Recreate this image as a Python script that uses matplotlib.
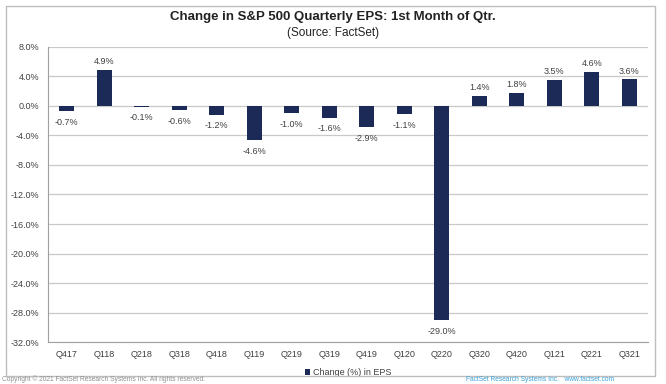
import numpy as np
import matplotlib.pyplot as plt
from matplotlib.patches import Rectangle

# quarters and change in EPS (%) during first month of quarter
quarters = ['Q417', 'Q118', 'Q218', 'Q318', 'Q418', 'Q119', 'Q219', 'Q319',
            'Q419', 'Q120', 'Q220', 'Q320', 'Q420', 'Q121', 'Q221', 'Q321']
changes = [-0.7, 4.9, -0.1, -0.6, -1.2, -4.6, -1.0, -1.6,
           -2.9, -1.1, -29.0, 1.4, 1.8, 3.5, 4.6, 3.6]
yticks = np.arange(-32, 9, 4)

plt.rcParams['font.family'] = ['Liberation Sans', 'DejaVu Sans']
navy = '#1b2a56'

fig = plt.figure(figsize=(6.66, 3.84), dpi=100)
ax = fig.add_axes([0.072, 0.109, 0.901, 0.769])

x = np.arange(len(quarters))
ax.bar(x, changes, width=0.4, color=navy, zorder=3, label='Change (%) in EPS')

for xi, v in zip(x, changes):
    if v >= 0:
        ax.text(xi, v + 0.5, f'{v:.1f}%', ha='center', va='bottom', fontsize=6.5, color='#404040')
    else:
        ax.text(xi, v - 0.9, f'{v:.1f}%', ha='center', va='top', fontsize=6.5, color='#404040')

ax.set_ylim(-32, 8)
ax.set_xlim(-0.5, len(quarters) - 0.5)
ax.set_yticks(yticks)
ax.set_yticklabels([f'{t:.1f}%' for t in yticks], fontsize=6.5, color='#404040')
ax.set_xticks(x)
ax.set_xticklabels(quarters, fontsize=6.5, color='#404040')
ax.tick_params(length=0, pad=6)
ax.grid(axis='y', color='#c8c8c8', linewidth=0.9, zorder=0)
for side in ['top', 'right']:
    ax.spines[side].set_visible(False)
ax.spines['left'].set_color('#a0a0a0')
ax.spines['bottom'].set_color('#a0a0a0')

fig.text(0.5, 0.955, 'Change in S&P 500 Quarterly EPS: 1st Month of Qtr.',
         ha='center', va='center', fontsize=9.5, fontweight='bold', color='#222222')
fig.text(0.5, 0.915, '(Source: FactSet)', ha='center', va='center', fontsize=8.5, color='#222222')

ax.legend(loc='upper center', bbox_to_anchor=(0.5, -0.06), frameon=False, fontsize=6.5,
          handlelength=0.6, handleheight=0.6, handletextpad=0.3, labelcolor='#404040')

# outer frame
fig.patches.append(Rectangle((6 / 666, 1 - 376 / 384), 649 / 666, 370 / 384,
                             transform=fig.transFigure, fill=False,
                             edgecolor='#bdbdbd', linewidth=1.0))

fig.text(0.003, 0.002, 'Copyright \u00a9 2021 FactSet Research Systems Inc. All rights reserved.',
         ha='left', va='bottom', fontsize=4.8, color='#909090')
fig.text(0.70, 0.002, 'FactSet Research Systems Inc.   www.factset.com',
         ha='left', va='bottom', fontsize=4.8, color='#3aa0d8')

fig.savefig('out.png', dpi=100)
